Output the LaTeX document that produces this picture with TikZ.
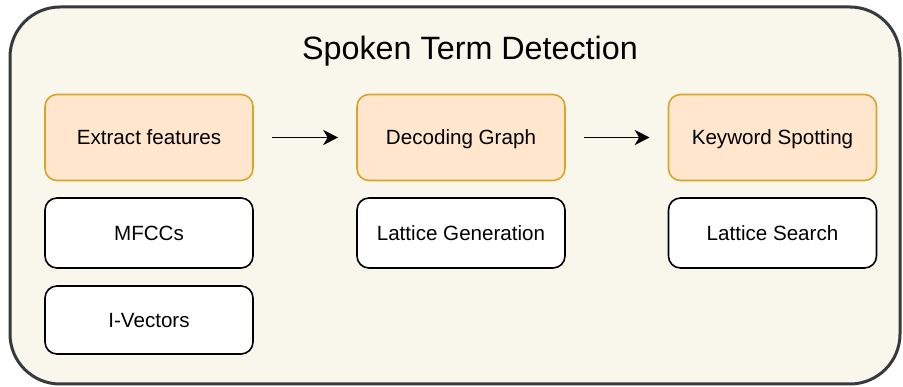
\documentclass[tikz,border=0pt]{standalone}
\usepackage{fontspec}
\setmainfont{Liberation Sans}
\usetikzlibrary{arrows.meta}
\definecolor{panelfill}{HTML}{F9F6EC}
\definecolor{paneldraw}{HTML}{36393D}
\definecolor{stagefill}{HTML}{FFE6CC}
\definecolor{stagedraw}{HTML}{D9A42A}
\tikzset{
  panel/.style={draw=paneldraw, fill=panelfill, line width=3pt, rounded corners=50pt},
  boxtext/.style={font=\fontsize{20.6}{24}\selectfont, text height=14.7pt, text depth=0pt},
  stagebox/.style={boxtext, draw=stagedraw, fill=stagefill, line width=1.6pt, rounded corners=12pt,
    minimum width=208pt, minimum height=86pt, inner sep=0pt},
  subbox/.style={boxtext, draw=black, fill=white, line width=1.6pt, rounded corners=12pt,
    minimum width=208pt, minimum height=70pt, inner sep=0pt},
  flow/.style={line width=1.8pt, -{Stealth[length=15pt, width=15pt, inset=4.5pt]},
    shorten <=18pt, shorten >=18pt}
}
\begin{document}
\begin{tikzpicture}[x=1pt, y=-1pt]
\useasboundingbox (0,0) rectangle (903,387);
% outer panel
\draw[panel] (10,7) rectangle (900,384);
\node[font=\fontsize{32.3}{38}\selectfont, text height=23pt, text depth=0pt, inner sep=0pt]
  (title) at (470,48) {Spoken Term Detection};
% stages
\node[stagebox] (extract) at (149,137.5) {Extract features};
\node[stagebox] (decode) at (461,137.5) {Decoding Graph};
\node[stagebox] (kws) at (772.5,137.5) {Keyword Spotting};
% sub-steps
\node[subbox] (mfcc) at (149,233) {MFCCs};
\node[subbox, minimum height=68pt] (ivec) at (149,320) {I-Vectors};
\node[subbox] (lattice) at (461,233) {Lattice Generation};
\node[subbox] (search) at (772.5,233) {Lattice Search};
% flow arrows
\draw[flow] (extract) -- (decode);
\draw[flow] (decode) -- (kws);
\end{tikzpicture}
\end{document}
